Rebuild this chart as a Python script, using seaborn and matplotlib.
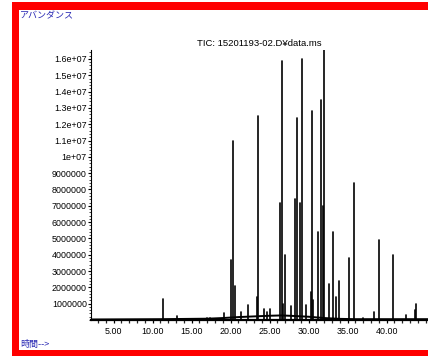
import matplotlib
matplotlib.use("Agg")
import matplotlib.pyplot as plt
from matplotlib.patches import Rectangle
from matplotlib.ticker import FixedLocator, MultipleLocator
import numpy as np
import pandas as pd
import seaborn as sns

# Retention times (min) and peak heights (abundance, x1e6) of the TIC
peak_times = [11.28, 13.08, 16.97, 17.36, 19.15, 20.01, 20.35, 20.50, 21.30, 22.27,
              23.35, 23.45, 24.29, 24.67, 25.02, 26.34, 26.56, 26.68, 26.98, 27.72,
              28.27, 28.49, 28.91, 29.13, 29.64, 30.28, 30.41, 30.58, 31.26, 31.64,
              31.82, 31.99, 32.63, 33.06, 33.49, 33.92, 35.20, 35.78, 36.91, 38.32,
              38.99, 40.85, 42.48, 43.62, 43.76]
peak_heights = [1.27, 0.25, 0.12, 0.15, 0.45, 3.7, 10.95, 2.1, 0.5, 0.92,
                1.4, 12.5, 0.67, 0.5, 0.67, 7.2, 15.9, 1.0, 4.0, 0.85,
                7.4, 12.4, 7.2, 16.0, 0.9, 1.7, 12.8, 1.2, 5.4, 13.5,
                7.0, 16.55, 2.2, 5.4, 1.4, 2.4, 3.8, 8.4, 0.15, 0.5,
                4.9, 4.0, 0.3, 0.6, 1.0]

# Baseline drift (abundance, x1e6)
base_times = [2.1, 11.0, 17.0, 19.0, 21.0, 23.0, 25.0, 26.5, 28.0, 30.0, 32.0, 34.0, 36.0, 40.0, 45.3]
base_levels = [0.03, 0.05, 0.08, 0.12, 0.18, 0.22, 0.26, 0.28, 0.25, 0.2, 0.12, 0.07, 0.05, 0.05, 0.05]

y_ticks = [1, 2, 3, 4, 5, 6, 7, 8, 9, 10, 11, 12, 13, 14, 15, 16]
y_labels = ["1000000", "2000000", "3000000", "4000000", "5000000", "6000000",
            "7000000", "8000000", "9000000", "1e+07", "1.1e+07", "1.2e+07",
            "1.3e+07", "1.4e+07", "1.5e+07", "1.6e+07"]
x_ticks = [5, 10, 15, 20, 25, 30, 35, 40]
x_labels = ["5.00", "10.00", "15.00", "20.00", "25.00", "30.00", "35.00", "40.00"]

title_text = "TIC: 15201193-02.D¥data.ms"
y_name = "アバンダンス"
x_name = "時間-->"

sns.set_theme(style="white")
plt.rcParams["font.family"] = ["Liberation Sans", "DejaVu Sans"]

W, H = 428, 356
fig = plt.figure(figsize=(W / 100, H / 100), dpi=100)
fig.patch.set_facecolor("white")

def px(x0, y0, x1, y1):
    return [x0 / W, 1 - y1 / H, (x1 - x0) / W, (y1 - y0) / H]

ax = fig.add_axes(px(91, 50, 428, 320))
ax.set_facecolor("white")

# Peaks: one vertical stroke per peak
rows = []
for i, (t, h) in enumerate(zip(peak_times, peak_heights)):
    rows.append({"peak": i, "time": t, "abund": 0.0})
    rows.append({"peak": i, "time": t, "abund": h * 1e6})
peaks = pd.DataFrame(rows)
sns.lineplot(data=peaks, x="time", y="abund", units="peak", estimator=None,
             sort=False, color="black", lw=1.2, ax=ax, legend=False)

base = pd.DataFrame({"time": base_times, "abund": np.array(base_levels) * 1e6})
sns.lineplot(data=base, x="time", y="abund", estimator=None, sort=False,
             color="black", lw=1.4, ax=ax, legend=False)

ax.set_xlim(2.1, 45.3)
ax.set_ylim(0, 16.55e6)
ax.set_xlabel("")
ax.set_ylabel("")

ax.yaxis.set_major_locator(FixedLocator([v * 1e6 for v in y_ticks]))
ax.set_yticklabels(y_labels)
ax.yaxis.set_minor_locator(MultipleLocator(2e5))
ax.xaxis.set_major_locator(FixedLocator(x_ticks))
ax.set_xticklabels(x_labels)
ax.xaxis.set_minor_locator(MultipleLocator(1))

ax.tick_params(axis="y", which="major", direction="out", length=2.5, width=0.8,
               pad=0.5, labelsize=6.4, colors="black", left=True)
ax.tick_params(axis="y", which="minor", direction="out", length=1.3, width=0.6, left=True)
ax.tick_params(axis="x", which="major", direction="out", length=2.5, width=0.9,
               pad=2.5, labelsize=6.4, colors="black", bottom=True)
ax.tick_params(axis="x", which="minor", direction="out", length=2.5, width=0.9, bottom=True)

for s in ["top", "right"]:
    ax.spines[s].set_visible(False)
ax.spines["left"].set_color("black")
ax.spines["left"].set_linewidth(0.8)
ax.spines["bottom"].set_color("black")
ax.spines["bottom"].set_linewidth(1.6)

fig.text(259 / W, 1 - 44 / H, title_text, ha="center", va="center", fontsize=6.8,
         color="black")

blue = "#2828b4"
fig.text(20 / W, 1 - 16 / H, y_name, ha="left", va="center", fontsize=6.5,
         color=blue, family=["Noto Sans CJK JP", "DejaVu Sans"])
fig.text(20 / W, 1 - 344 / H, x_name, ha="left", va="center", fontsize=6.5,
         color=blue, family=["Noto Sans CJK JP", "DejaVu Sans"])

# Red frame
red = "#ff0000"
for (x0, y0, x1, y1) in [(12, 2, 428, 10), (12, 2, 19, 356), (12, 350, 428, 356)]:
    fig.patches.append(Rectangle((x0 / W, 1 - y1 / H), (x1 - x0) / W, (y1 - y0) / H,
                                 transform=fig.transFigure, facecolor=red,
                                 edgecolor="none", zorder=10))

fig.savefig("out.png", dpi=100)
